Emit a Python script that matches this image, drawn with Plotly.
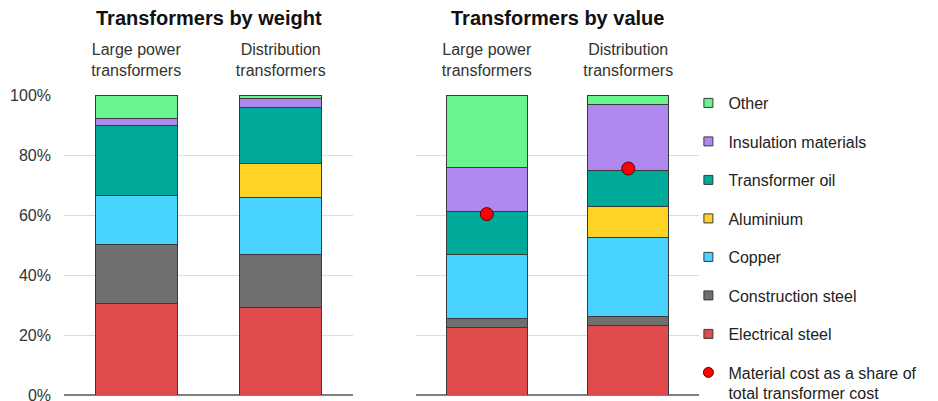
import plotly.graph_objects as go

categories = ["Large power<br>transformers", "Distribution<br>transformers"]
materials = ["Electrical steel", "Construction steel", "Copper", "Aluminium",
             "Transformer oil", "Insulation materials", "Other"]
colors = ["#E04B4B", "#6E6F6E", "#48D3FF", "#FFD325", "#00AA9B", "#B087EC", "#69F48F"]

weight_lpt = [30.4, 19.9, 16.1, 0.0, 23.3, 2.6, 7.7]
weight_dist = [29.3, 17.6, 19.0, 11.3, 18.6, 3.1, 1.1]
value_lpt = [22.6, 2.9, 21.4, 0.0, 14.2, 14.8, 24.1]
value_dist = [23.1, 3.1, 26.3, 10.3, 12.1, 21.9, 3.2]
material_cost_share = [60.3, 75.5]
dot_label = "Material cost as a share of<br>total transformer cost"

titles = ["Transformers by weight", "Transformers by value"]
y_ticks = [0, 20, 40, 60, 80, 100]
y_ticktext = [f"{v}%" for v in y_ticks]

FONT = "Liberation Sans, Arial, sans-serif"
OFF = 8                      # default page body margin in the browser
W = 938 - OFF
H = 401 - OFF + 50           # extends below the window so edge labels/legend are not clipped
PLOT_TOP, PLOT_BOT = 95 - OFF, 395 - OFF


def xp(px):
    return (px - OFF) / W


def yp(py):
    return (PLOT_BOT - (py - OFF)) / (PLOT_BOT - PLOT_TOP)


fig = go.Figure()
n = len(materials)
for i, m in enumerate(materials):
    for vals, xa, ya in [((weight_lpt[i], weight_dist[i]), "x", "y"),
                         ((value_lpt[i], value_dist[i]), "x2", "y2")]:
        fig.add_trace(go.Bar(
            x=categories, y=list(vals), name=m,
            marker=dict(color=colors[i], line=dict(color="#3a3a3a", width=1)),
            width=0.57, xaxis=xa, yaxis=ya, legendgroup=m, showlegend=False))
    # legend entry (small square like the reference)
    fig.add_trace(go.Scatter(
        x=[None], y=[None], mode="markers", name=m,
        marker=dict(symbol="square", size=9, color=colors[i],
                    line=dict(color="#3a3a3a", width=1)),
        xaxis="x2", yaxis="y2", legendgroup=m, legendrank=n - i, showlegend=True))

fig.add_trace(go.Scatter(
    x=categories, y=material_cost_share, mode="markers", name=dot_label,
    marker=dict(color="#FF0000", size=13, line=dict(color="#5a0000", width=1)),
    xaxis="x2", yaxis="y2", legendgroup="dot", showlegend=False))
fig.add_trace(go.Scatter(
    x=[None], y=[None], mode="markers", name=dot_label,
    marker=dict(color="#FF0000", size=10, line=dict(color="#5a0000", width=1)),
    xaxis="x2", yaxis="y2", legendgroup="dot", legendrank=n + 1, showlegend=True))

xd1 = [xp(64), xp(353)]
xd2 = [xp(416), xp(699)]

xcommon = dict(type="category", side="top", showgrid=False, showline=False,
               ticks="", tickfont=dict(family=FONT, size=16, color="#333333"),
               range=[-0.5, 1.5], fixedrange=True, ticklabelstandoff=15)
ycommon = dict(range=[0, 100], tickvals=y_ticks, showgrid=True, gridcolor="#DCDCDC",
               gridwidth=1, zeroline=True, zerolinecolor="#808080", zerolinewidth=2,
               showline=False, ticks="", fixedrange=True)

fig.update_layout(
    width=W, height=H, barmode="stack",
    margin=dict(l=0, r=0, t=PLOT_TOP, b=H - PLOT_BOT, pad=0, autoexpand=False),
    paper_bgcolor="white", plot_bgcolor="white",
    xaxis=dict(domain=xd1, anchor="y", **xcommon),
    xaxis2=dict(domain=xd2, anchor="y2", **xcommon),
    yaxis=dict(domain=[0, 1], anchor="x", ticktext=y_ticktext, ticklabelstandoff=12,
               ticklabeloverflow="allow",
               tickfont=dict(family=FONT, size=16, color="#333333"), **ycommon),
    yaxis2=dict(domain=[0, 1], anchor="x2", showticklabels=False, **ycommon),
    legend=dict(x=(680.4) / W, y=yp(86), xanchor="left", yanchor="top",
                font=dict(family=FONT, size=16, color="#222222"),
                traceorder="grouped", tracegroupgap=14.7, itemwidth=30,
                valign="top", bgcolor="rgba(0,0,0,0)", borderwidth=0,
                maxheight=420),
    showlegend=True,
)

for t, xd in zip(titles, [xd1, xd2]):
    fig.add_annotation(text=f"<b>{t}</b>", x=sum(xd) / 2, y=yp(17.5), xref="paper",
                       yref="paper", showarrow=False, xanchor="center", yanchor="middle",
                       font=dict(family=FONT, size=20, color="#111111"))

fig.write_html("out.html")
